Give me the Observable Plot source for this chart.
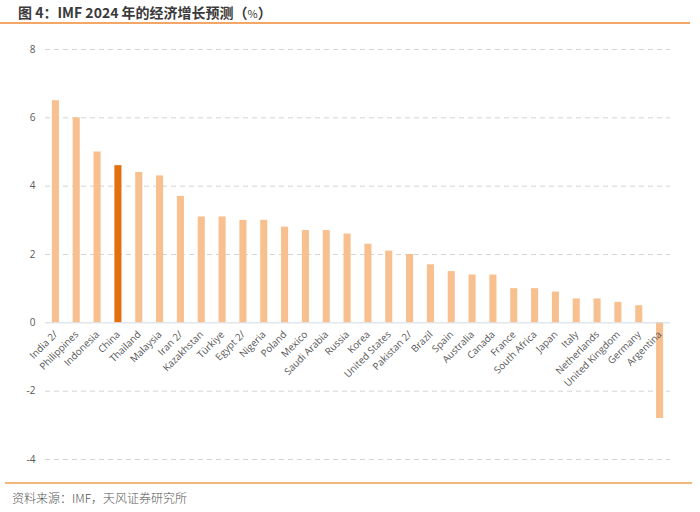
<!DOCTYPE html>
<html><head><meta charset="utf-8">
<script src="https://cdn.jsdelivr.net/npm/d3@7"></script>
<script src="https://cdn.jsdelivr.net/npm/@observablehq/plot@0.6"></script>
<style>
body{margin:0;background:#fff;width:700px;height:512px;overflow:hidden;font-family:"Open Sans","Noto Sans CJK SC",sans-serif;}
#title{position:absolute;left:0;top:0;width:690px;height:24px;border-bottom:2px solid #f2a766;font-family:"Noto Sans CJK SC","Open Sans",sans-serif;font-weight:bold;font-size:14px;color:#3a3a3a;line-height:24px;padding-left:18px;box-sizing:border-box;}
#title .pct{font-size:11px;font-weight:normal;}
#chart{position:absolute;left:0;top:28px;}
#foot{position:absolute;left:5px;top:482px;width:680px;border-top:2px solid #f2b77a;font-family:"Noto Sans CJK SC",sans-serif;font-weight:300;font-size:12px;color:#555;padding-left:7px;padding-top:5px;}
</style></head>
<body>
<div id="title">图 4：IMF 2024 年的经济增长预测（<span class="pct">%</span>）</div>
<div id="chart"></div>
<div id="foot">资料来源：IMF，天风证券研究所</div>
<script>
const countries = ["India 2/","Philippines","Indonesia","China","Thailand","Malaysia","Iran 2/","Kazakhstan","Türkiye","Egypt 2/","Nigeria","Poland","Mexico","Saudi Arabia","Russia","Korea","United States","Pakistan 2/","Brazil","Spain","Australia","Canada","France","South Africa","Japan","Italy","Netherlands","United Kingdom","Germany","Argentina"];
const growth = [6.5,6.0,5.0,4.6,4.4,4.3,3.7,3.1,3.1,3.0,3.0,2.8,2.7,2.7,2.6,2.3,2.1,2.0,1.7,1.5,1.4,1.4,1.0,1.0,0.9,0.7,0.7,0.6,0.5,-2.8];
const highlight = "China";
const yTicks = [-4,-2,0,2,4,6,8];

const data = countries.map((c,i)=>({country:c, value:growth[i]}));

const chart = Plot.plot({
  width: 700,
  height: 452,
  marginTop: 21,
  marginBottom: 21,
  marginLeft: 45,
  marginRight: 30,
  style: {fontFamily: '"Open Sans", sans-serif', color: "#595959", fontSize: "10px"},
  x: {domain: countries, paddingInner: 0.66, paddingOuter: 0.33, round: false, axis: null},
  y: {domain: [-4, 8], ticks: yTicks, tickSize: 0, tickPadding: 10, label: null, tickFormat: d => d},
  marks: [
    Plot.ruleY(yTicks.filter(d => d !== 0), {stroke: "#d4d4d4", strokeDasharray: "5,4", strokeWidth: 1}),
    Plot.barY(data, {x: "country", y: "value", fill: d => d.country === highlight ? "#e3700f" : "#f8c08f"}),
    Plot.ruleY([0], {stroke: "#d3dae2", strokeWidth: 1}),
    Plot.text(data, {x: "country", y: () => 0, text: "country", rotate: -45, textAnchor: "end", dx: 0, dy: 10, fill: "#595959", fontSize: 9.8})
  ]
});
document.getElementById("chart").appendChild(chart);
</script>
</body></html>
